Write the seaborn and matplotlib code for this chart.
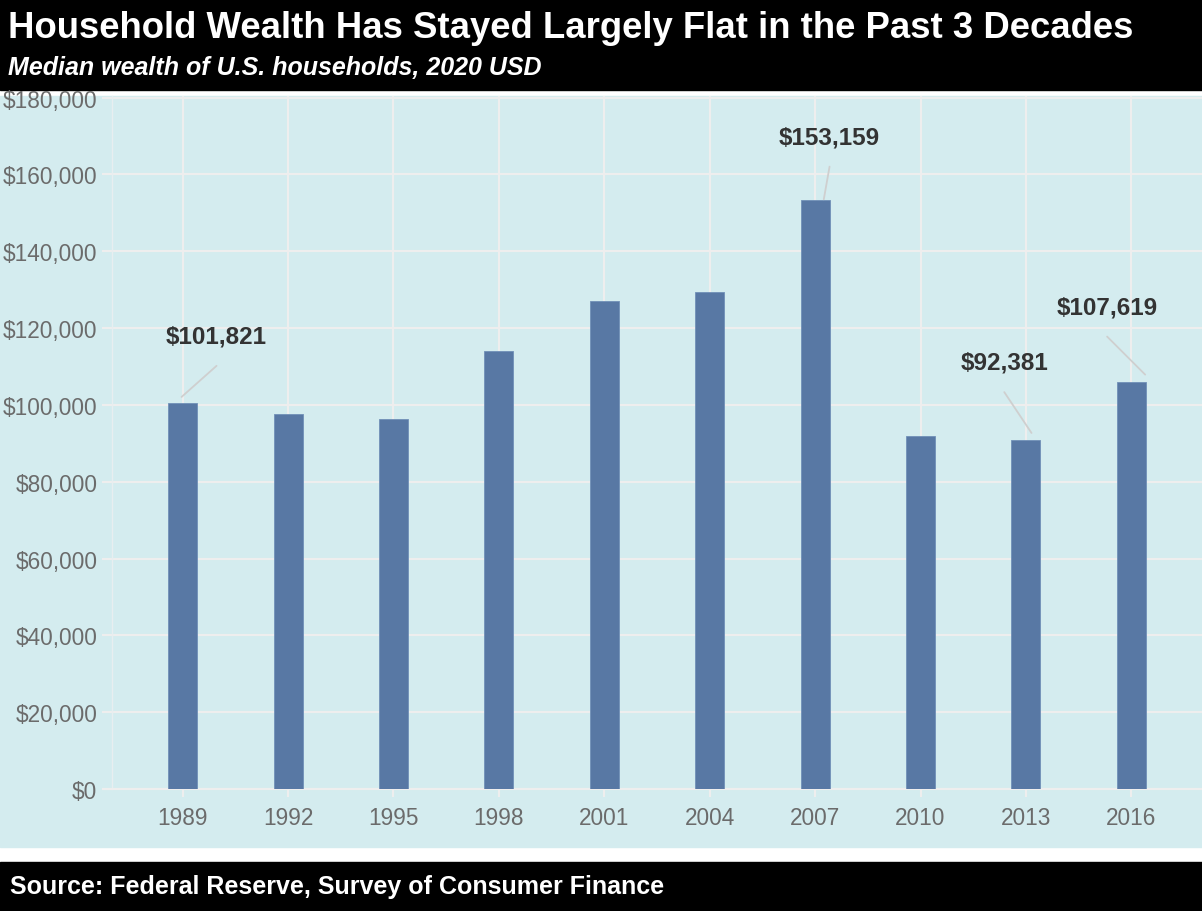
import matplotlib
matplotlib.use("Agg")
import matplotlib.pyplot as plt
import matplotlib.ticker as mticker
from matplotlib.patches import Rectangle
import seaborn as sns

# data
years = ["1989", "1992", "1995", "1998", "2001", "2004", "2007", "2010", "2013", "2016"]
wealth = [100500, 97500, 96400, 113900, 127000, 129500, 153300, 91900, 90900, 106000]

# labelled points (values as printed on the chart)
label_years = ["1989", "2007", "2013", "2016"]
label_values = [101821, 153159, 92381, 107619]
# text offsets (pixels) and small shift of the leader tip (in bar units)
label_offsets = [(36, 62), (6, 64), (-28, 72), (-39, 69)]
tip_shift = [-0.02, 0.08, 0.06, 0.14]

yticks = list(range(0, 180001, 20000))

BG = "#d4ecef"
BAR = "#5878a4"
GRID = "#eeeeee"
TXT = "#6b6b6b"

sns.set_theme(style="white")
plt.rcParams["font.family"] = ["Liberation Sans", "DejaVu Sans"]

W, H = 1202, 912
fig = plt.figure(figsize=(W / 100, H / 100), dpi=100)
fig.patch.set_facecolor("white")

# header / panel / footer bands
fig.add_artist(Rectangle((0, 1 - 91 / H), 1, 91 / H, transform=fig.transFigure,
                         color="black", zorder=0))
fig.add_artist(Rectangle((0, 1 - 848 / H), 1, (848 - 97) / H, transform=fig.transFigure,
                         color=BG, zorder=0))
fig.add_artist(Rectangle((0, 0), 1, 49 / H, transform=fig.transFigure,
                         color="black", zorder=0))

ax = fig.add_axes([112 / W, 1 - 790 / H, (W - 112) / W, (790 - 97) / H])
ax.set_facecolor(BG)

sns.barplot(x=years, y=wealth, color=BAR, width=0.275, saturation=1,
            edgecolor="#7090b8", linewidth=0.6, ax=ax, zorder=3)

ax.set_xlim(-0.67, 9.67)
ax.set_ylim(0, 180400)
ax.set_yticks(yticks)
ax.yaxis.set_major_formatter(mticker.FuncFormatter(lambda v, p: f"${v:,.0f}"))
ax.set_xlabel("")
ax.set_ylabel("")

ax.grid(True, color=GRID, linewidth=1.5, zorder=0)
ax.set_axisbelow(True)
for side in ["top", "right"]:
    ax.spines[side].set_visible(False)
ax.spines["left"].set_color("#e8eef0")
ax.spines["left"].set_linewidth(1.0)
ax.spines["bottom"].set_color(GRID)
ax.spines["bottom"].set_linewidth(1.5)
ax.spines["bottom"].set_bounds(-0.76, 9.67)
ax.spines["bottom"].set_clip_on(False)

ax.tick_params(axis="y", length=7, width=1.5, color=GRID, pad=3.5,
               labelsize=16.3, labelcolor=TXT, left=True)
ax.tick_params(axis="x", length=6, width=1.5, color=GRID, pad=6,
               labelsize=16.3, labelcolor=TXT, bottom=True)

# value labels with leader lines (segment starts a bit below the text)
for yr, val, off, sh in zip(label_years, label_values, label_offsets, tip_shift):
    i = years.index(yr)
    ax.annotate(f"${val:,.0f}", xy=(i + sh, val), xytext=off,
                textcoords="offset pixels", ha="center", va="center",
                fontsize=17.5, fontweight="bold", color="#333333", zorder=5)
    ax.annotate("", xy=(i + sh, val), xytext=(off[0], off[1] - 30),
                textcoords="offset pixels",
                arrowprops=dict(arrowstyle="-", color="#cfcfcf", lw=1.3,
                                shrinkA=0, shrinkB=1),
                zorder=5)

fig.text(8 / W, 1 - 29 / H, "Household Wealth Has Stayed Largely Flat in the Past 3 Decades",
         color="white", fontsize=26.3, fontweight="bold", va="center", ha="left")
fig.text(8 / W, 1 - 68 / H, "Median wealth of U.S. households, 2020 USD",
         color="white", fontsize=18, fontweight="bold", fontstyle="italic",
         va="center", ha="left")
fig.text(10 / W, 1 - 887 / H, "Source: Federal Reserve, Survey of Consumer Finance",
         color="white", fontsize=18, fontweight="bold", va="center", ha="left")

fig.savefig("out.png", dpi=100, facecolor=fig.get_facecolor())
